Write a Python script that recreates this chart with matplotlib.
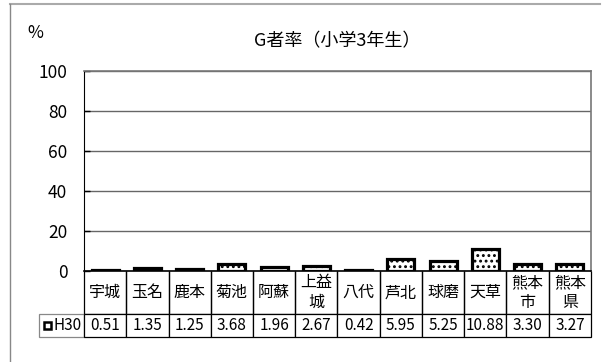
#!/usr/bin/env python3
"""G者率（小学3年生） bar chart with data table underneath."""

import matplotlib
matplotlib.use("Agg")
import matplotlib.pyplot as plt
from matplotlib.patches import Rectangle

plt.rcParams["font.family"] = ["Noto Sans CJK JP", "DejaVu Sans"]
plt.rcParams["hatch.linewidth"] = 1.3

# --- data ---
regions = ["宇城", "玉名", "鹿本", "菊池", "阿蘇", "上益\n城", "八代",
           "芦北", "球磨", "天草", "熊本\n市", "熊本\n県"]
h30 = [0.51, 1.35, 1.25, 3.68, 1.96, 2.67, 0.42, 5.95, 5.25, 10.88, 3.30, 3.27]
series_label = "H30"
yticks = [0, 20, 40, 60, 80, 100]

W, H = 606, 362
fig = plt.figure(figsize=(W / 100, H / 100), dpi=100)

# outer chart-area frame (top and left edges visible in the source)
fig.add_artist(plt.Line2D([10 / W, 600 / W], [1 - 4 / H, 1 - 4 / H],
                          color="#aaaaaa", lw=1.5))
fig.add_artist(plt.Line2D([10 / W, 10 / W], [0, 1 - 4 / H],
                          color="#888888", lw=1.0))

left, right, top, bottom = 84, 591, 71, 271
aw, ah = right - left, bottom - top
ax = fig.add_axes([left / W, 1 - bottom / H, aw / W, ah / H])

x = range(len(h30))
ax.bar(x, h30, width=0.64, color="white", edgecolor="black",
       linewidth=2.3, hatch="...", zorder=3)

ax.set_xlim(-0.5, len(h30) - 0.5)
ax.set_ylim(0, 100)
ax.set_yticks(yticks)
ax.set_yticklabels([str(v) for v in yticks], fontsize=12.5)
ax.tick_params(axis="y", direction="in", length=4, pad=12, width=1)
ax.set_xticks([])
ax.grid(axis="y", color="#666666", linewidth=1.0, zorder=0)

for side in ("top", "right"):
    ax.spines[side].set_color("#777777")
    ax.spines[side].set_linewidth(1.2)
ax.spines["left"].set_color("black")
ax.spines["bottom"].set_color("black")
ax.spines["bottom"].set_linewidth(1.2)

fig.text(27 / W, 1 - 33 / H, "%", fontsize=12.5, va="center", ha="left")
fig.text(337 / W, 1 - 41 / H, "G者率（小学3年生）", fontsize=13,
         va="center", ha="center")

# --- data table under the plot ---
label_w = 45
cell_text = [[""] + [f"{v:.2f}" for v in h30]]
col_w = [label_w] + [aw / len(h30)] * len(h30)
table = ax.table(
    cellText=cell_text,
    colLabels=[""] + regions,
    colWidths=col_w,
    cellLoc="center",
    bbox=[-label_w / aw, -(337 - bottom) / ah, 1 + label_w / aw, (337 - bottom) / ah],
)
table.auto_set_font_size(False)
for (r, c), cell in table.get_celld().items():
    cell.set_height(44 if r == 0 else 23)
    cell.set_linewidth(0.9)
    cell.set_edgecolor("black")
    if r == 0:
        cell.get_text().set_fontsize(11.5)
        cell.get_text().set_linespacing(1.2)
        cell.visible_edges = "" if c == 0 else "LRB"
    else:
        cell.get_text().set_fontsize(11)
        if c == 0:
            cell.set_edgecolor("#888888")

# row label: legend key square + series name
row_y = -(325 - bottom) / ah
ax.add_patch(Rectangle((-40 / aw, row_y - 3.5 / ah), 7 / aw, 7 / ah,
                       transform=ax.transAxes, facecolor="white",
                       edgecolor="black", linewidth=1.8, clip_on=False,
                       zorder=5))
ax.text(-31 / aw, row_y, series_label, transform=ax.transAxes,
        fontsize=11, ha="left", va="center")

fig.savefig("out.png", dpi=100)
